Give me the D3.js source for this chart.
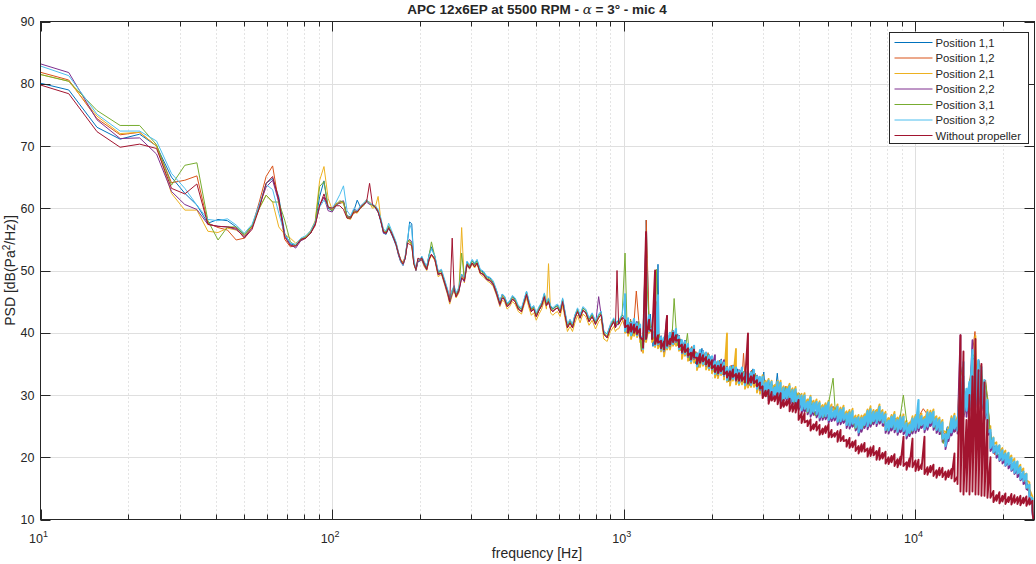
<!DOCTYPE html>
<html>
<head>
<meta charset="utf-8">
<script src="https://cdn.jsdelivr.net/npm/d3@7/dist/d3.min.js"></script>
<style>
  body { margin: 0; background: #fff; }
  svg { display: block; }
  text { font-family: "Liberation Sans", Arial, Helvetica, sans-serif; fill: #262626; }
</style>
</head>
<body>
<svg id="chart" width="1036" height="564"></svg>
<script>
// ---- Frequency bins (Hz) ----
const freqLow = [9.375, 12.5, 15.625, 18.75, 21.875, 25, 28.125, 31.25, 34.375, 37.5,
  40.625, 43.75, 46.875, 50, 53.125, 56.25, 59.375, 62.5, 65.625, 68.75,
  71.875, 75, 78.125, 81.25, 84.375, 87.5, 90.625, 93.75, 96.875, 100,
  103.125, 106.25, 109.375, 112.5, 115.625, 118.75, 121.875, 125, 128.125, 131.25,
  134.375, 137.5, 140.625, 143.75, 146.875, 150, 153.125, 156.25, 159.375, 162.5,
  165.625, 168.75, 171.875, 175, 178.125, 181.25, 184.375, 187.5, 190.625, 193.75,
  196.875, 200];
const freqMid = [203, 207, 211, 215, 219, 225, 231, 237, 244, 249,
  253, 258, 262, 266, 272, 278, 284, 290, 296, 302,
  308, 314, 322, 330, 339, 348, 357, 366, 376, 383,
  390, 398, 406, 415, 424, 435, 446, 455, 464, 473,
  482, 491, 501, 512, 523, 534, 543, 552, 561, 571,
  582, 593, 605, 617, 629, 641, 654, 667, 680, 694,
  708, 724, 741, 760, 779, 800, 820, 836, 854, 877,
  900, 924, 936, 948, 960, 987];
const freqHigh1 = [1010, 1025, 1042, 1055, 1068, 1085, 1104, 1125, 1149, 1160,
  1174, 1180, 1194, 1220, 1233, 1259, 1275, 1294, 1310, 1322,
  1345, 1368, 1385, 1405, 1442, 1467, 1488, 1513, 1530, 1551,
  1570, 1589, 1620, 1653, 1683, 1710, 1739, 1765, 1796, 1825,
  1853, 1883, 1913, 1945, 1975, 2010, 2042, 2070, 2095, 2130,
  2162, 2190, 2212, 2263, 2290, 2335, 2380, 2415, 2452, 2500,
  2540, 2574, 2610, 2650, 2703, 2740, 2772, 2825, 2880, 2950,
  3020, 3060, 3100, 3160, 3225, 3290, 3360, 3420, 3490, 3580,
  3670, 3750, 3830, 3910, 3990];
const freqHigh2 = [4130, 4260, 4400, 4540, 4680, 4830, 4990, 5220, 5310, 5480,
  5660, 5840, 6030, 6220, 6420, 6630, 6840, 7060, 7290, 7520,
  7760, 8010, 8270, 8540, 8810, 9090, 9380, 9680, 10160, 10310,
  10640, 10980, 11330, 11700, 12070, 12460, 12860, 13270, 13700,
  14000, 14270, 14500, 14750, 15000, 15250, 15500, 15750, 16000, 16250,
  16500, 16800, 17100, 17400, 17700, 18000, 18300,
  18700, 19300, 19900, 20500, 21200, 21800, 22500, 23200, 23900, 24600,
  25000, 25400, 25600];
// dense bins above 1 kHz, each holding the upper and lower excursion of the trace
const freqFine = [1010, 1034, 1059, 1084, 1110, 1137, 1164, 1192, 1221, 1250,
  1280, 1310, 1342, 1374, 1407, 1440, 1475, 1510, 1546, 1583,
  1621, 1660, 1700, 1741, 1782, 1825, 1869, 1914, 1959, 2006,
  2054, 2104, 2154, 2206, 2259, 2313, 2368, 2425, 2483, 2542,
  2603, 2666, 2730, 2795, 2862, 2930,
  2992, 3064, 3137, 3212, 3289, 3368, 3449, 3531, 3616, 3702,
  3791, 3882, 3975, 4070, 4168, 4267, 4370, 4474, 4581, 4691,
  4804, 4919, 5037, 5157, 5281, 5407, 5537, 5670, 5805, 5944,
  6087, 6233, 6382, 6535, 6691, 6852, 7016, 7184, 7356, 7532,
  7712, 7897, 8086, 8280, 8478, 8681, 8889, 9102, 9320, 9543,
  9772, 10006, 10245, 10491, 10742, 10999, 11263, 11532, 11809, 12092,
  12381, 12678, 12981, 13292, 13611, 13937, 14270, 14612, 14962, 15320,
  15687, 16063, 16447, 16841, 17245, 17658, 18080, 18513, 18957, 19411,
  19876, 20351, 20839, 21338, 21849, 22372, 22908, 23456, 24018, 24593,
  25182, 25600];

// ---- PSD values (dB re Pa^2/Hz) ----
// Position 1,1
const p11Low = [80.4, 79.0, 73.0, 71.1, 71.9, 70.0, 65.0, 62.4, 60.5, 57.6,
  58.2, 58.0, 57.0, 55.6, 57.2, 60.2, 64.0, 64.8, 61.8, 56.0,
  54.3, 54.0, 55.0, 55.4, 56.0, 57.6, 61.9, 64.4, 60.0, 59.6,
  60.6, 60.8, 61.0, 58.8, 58.6, 59.6, 61.3, 60.2, 60.4, 61.2,
  60.8, 60.5, 60.0, 59.4, 57.8, 56.0, 55.8, 56.8, 56.0, 55.0,
  54.0, 52.5, 51.4, 51.0, 52.0, 54.5, 57.8, 57.5, 51.5, 50.0,
  51.5, 51.5];
const p11Mid = [52.2, 51.2, 50.6, 52.6, 53.8, 52.2, 49.8, 50.0, 48.0, 46.8,
  45.4, 46.8, 47.4, 46.2, 47.0, 49.4, 48.8, 51.4, 50.8, 51.6,
  51.0, 51.6, 50.0, 49.8, 49.0, 48.8, 48.0, 46.8, 45.0, 46.2,
  45.8, 44.6, 45.0, 45.8, 45.4, 44.2, 43.8, 45.2, 46.6, 45.0,
  43.8, 44.2, 43.0, 44.0, 44.8, 46.2, 44.8, 45.4, 44.2, 43.8,
  44.2, 44.4, 43.6, 45.4, 43.2, 41.2, 42.0, 41.2, 42.8, 43.8,
  42.8, 44.0, 43.6, 42.2, 43.0, 41.8, 42.8, 43.3, 40.2, 39.8,
  41.2, 42.2, 41.2, 41.8, 41.8, 42.8];
const p11High1 = [42.5, 40.0, 41.7, 40.2, 41.4, 40.0, 41.8, 40.0, 39.0, 38.0,
  40.4, 39.5, 58.1, 40.5, 43.0, 37.8, 40.5, 38.5, 51.0, 37.8,
  39.5, 36.8, 39.5, 38.0, 39.8, 38.5, 40.0, 38.5, 39.8, 37.6,
  39.0, 36.5, 38.8, 36.0, 37.4, 35.8, 37.7, 35.0, 36.3, 35.0,
  37.5, 34.8, 36.6, 34.8, 36.2, 34.0, 35.6, 33.4, 35.0, 33.6,
  35.8, 33.2, 35.0, 32.6, 34.0, 32.8, 34.8, 32.2, 34.2, 32.0,
  34.2, 32.0, 33.8, 31.8, 33.4, 32.0, 34.2, 31.5, 33.0, 30.6,
  33.7, 30.0, 31.6, 30.0, 31.8, 29.6, 33.5, 29.4, 31.0, 29.4,
  31.3, 28.8, 30.5, 28.5, 30.3];
const p11High2 = [29.3, 27.2, 29.1, 26.7, 28.5, 26.4, 28.1, 26.4, 27.9, 25.8,
  27.4, 25.4, 26.9, 24.6, 25.9, 24.9, 27.2, 25.4, 27.5, 25.9,
  26.7, 24.3, 26.3, 24.5, 26.1, 24.1, 25.4, 24.1, 26.7, 24.9,
  26.4, 25.1, 27.1, 24.7, 25.9, 22.3, 24.9, 24.3, 25.9,
  25.5, 33.0, 34.5, 30.0, 29.0, 31.5, 33.0, 36.0, 35.5, 31.5,
  34.0, 33.5, 31.0, 31.5, 28.5, 24.5, 22.5,
  21.6, 19.9, 20.8, 19.0, 19.8, 17.8, 18.4, 16.6, 16.6, 14.0,
  13.4, 11.0, 8.0];

// Position 1,2
const p12Low = [82.2, 80.6, 74.4, 71.8, 72.2, 70.0, 64.1, 64.5, 65.2, 57.6,
  56.9, 56.5, 54.9, 55.2, 57.0, 61.0, 65.1, 66.8, 60.8, 55.0,
  53.8, 54.0, 54.8, 55.2, 56.0, 57.2, 60.6, 61.8, 60.2, 59.8,
  60.8, 60.8, 61.0, 58.6, 58.6, 59.2, 59.4, 60.2, 60.8, 61.2,
  61.0, 60.4, 60.4, 59.6, 58.0, 56.3, 56.0, 57.0, 56.0, 55.4,
  54.4, 52.9, 51.8, 51.3, 52.3, 54.8, 54.5, 54.4, 51.2, 50.2,
  51.6, 51.8];
const p12Mid = [51.8, 50.8, 50.2, 51.8, 52.6, 51.8, 49.4, 49.6, 47.8, 46.4,
  45.0, 46.4, 47.4, 45.8, 46.8, 49.2, 48.4, 51.0, 50.4, 51.2,
  50.6, 51.2, 49.6, 49.4, 48.6, 48.4, 47.8, 46.4, 44.6, 46.0,
  45.4, 44.4, 44.6, 45.4, 45.2, 43.8, 43.4, 45.0, 46.0, 44.6,
  43.4, 44.0, 42.6, 43.6, 44.4, 45.8, 44.4, 45.0, 43.8, 43.4,
  43.8, 44.0, 43.2, 45.0, 42.8, 40.8, 41.6, 40.8, 42.4, 43.4,
  42.4, 43.6, 43.2, 41.8, 42.6, 41.4, 42.4, 43.0, 39.8, 39.2,
  40.8, 41.8, 40.8, 41.4, 41.4, 42.4];
const p12High1 = [40.6, 42.0, 39.8, 42.2, 39.5, 42.0, 46.7, 42.0, 37.0, 40.0,
  38.5, 41.5, 58.1, 42.5, 41.0, 39.8, 38.6, 45.0, 38.0, 39.8,
  37.6, 38.8, 37.6, 40.0, 37.9, 40.5, 38.1, 40.5, 37.9, 39.6,
  37.1, 38.5, 36.9, 38.0, 35.5, 37.8, 35.8, 37.0, 34.4, 37.0,
  35.6, 36.8, 34.7, 36.8, 34.3, 36.0, 33.7, 35.4, 33.1, 35.6,
  33.9, 35.2, 33.1, 34.6, 32.1, 34.8, 32.9, 34.2, 32.3, 34.0,
  32.3, 36.7, 31.9, 33.8, 31.5, 34.0, 32.3, 33.5, 31.1, 32.6,
  30.7, 32.0, 29.7, 32.0, 29.9, 31.6, 29.9, 31.4, 29.1, 31.4,
  29.4, 30.8, 28.6, 30.5, 28.4];
const p12High2 = [27.5, 29.0, 27.3, 28.5, 26.7, 28.2, 26.3, 28.2, 26.1, 27.6,
  25.6, 27.2, 25.1, 26.4, 24.1, 26.7, 25.4, 27.2, 25.7, 27.7,
  24.9, 26.1, 24.5, 26.3, 24.3, 25.9, 23.6, 25.9, 24.9, 26.7,
  27.8, 26.9, 25.3, 26.5, 24.1, 24.1, 23.1, 26.1, 24.1,
  25.0, 34.0, 33.0, 29.5, 29.5, 31.0, 34.0, 37.5, 40.2, 33.0,
  35.5, 33.0, 31.5, 32.4, 29.0, 24.0, 22.0,
  20.4, 21.1, 19.6, 20.2, 18.6, 19.0, 17.2, 17.8, 15.4, 15.0,
  12.6, 11.0, 8.0];

// Position 2,1
const p21Low = [81.8, 80.4, 74.8, 72.0, 72.2, 70.0, 62.4, 59.7, 59.7, 56.3,
  56.1, 56.8, 56.5, 55.6, 57.0, 60.0, 62.1, 61.0, 57.0, 55.8,
  55.2, 54.4, 55.0, 55.4, 56.4, 58.0, 64.5, 66.7, 61.6, 59.8,
  60.6, 61.0, 60.8, 58.4, 58.2, 59.4, 59.2, 60.0, 60.4, 61.4,
  60.8, 60.0, 60.2, 61.9, 58.2, 56.2, 56.0, 57.0, 56.2, 55.4,
  54.2, 52.8, 51.6, 51.2, 52.2, 54.6, 54.6, 54.0, 51.0, 50.0,
  51.8, 51.6];
const p21Mid = [51.6, 50.6, 50.0, 51.6, 52.4, 51.6, 49.0, 49.4, 47.4, 46.0,
  44.6, 46.0, 46.8, 45.6, 46.4, 56.9, 48.0, 50.8, 50.2, 51.0,
  50.4, 51.0, 49.4, 49.0, 48.4, 48.0, 47.4, 46.0, 44.2, 45.2,
  45.0, 43.8, 44.2, 45.0, 44.6, 43.4, 43.0, 44.4, 45.6, 44.0,
  42.8, 43.2, 42.0, 43.0, 43.8, 45.2, 43.8, 51.1, 43.2, 42.8,
  43.2, 43.4, 42.6, 44.4, 42.2, 40.2, 41.0, 40.2, 41.6, 42.8,
  41.6, 43.0, 42.6, 41.2, 42.0, 40.6, 41.8, 42.2, 39.0, 38.6,
  40.2, 41.0, 40.2, 40.6, 40.6, 41.8];
const p21FineHi = [41.9, 40.9, 41.3, 41.0, 40.6, 40.4, 39.2, 48.0, 41.3, 40.5,
  39.3, 39.6, 38.3, 38.2, 39.3, 38.7, 39.8, 39.4, 38.4, 37.9,
  38.4, 37.0, 36.4, 37.1, 36.2, 35.9, 36.6, 35.9, 35.3, 35.4,
  34.8, 34.1, 35.2, 34.3, 39.9, 33.2, 34.3, 37.4, 33.0, 33.6,
  33.0, 32.6, 33.2, 33.1, 32.0, 32.1,
  33.2, 32.3, 32.6, 32.3, 31.6, 32.3, 32.3, 31.4, 31.3, 31.8,
  31.1, 31.3, 30.3, 30.2, 30.3, 29.3, 29.9, 29.1, 29.3, 29.0,
  28.4, 28.7, 29.1, 28.5, 27.9, 28.5, 28.0, 28.3, 27.4, 27.6,
  27.8, 26.7, 26.8, 26.7, 26.9, 27.7, 28.2, 27.6, 27.6, 28.5,
  27.6, 27.3, 26.3, 26.8, 27.3, 26.4, 26.8, 26.9, 25.9, 25.6,
  26.6, 26.8, 27.4, 27.0, 26.5, 27.6, 27.5, 27.7, 26.6, 26.4,
  26.0, 24.1, 24.8, 26.6, 27.0, 26.5,
  34.5, 32.0, 30.0, 31.5, 33.5, 39.5, 35.0, 34.0, 32.0, 29.5, 25.0,
  23.2, 22.4, 21.9, 21.5, 21.1, 20.7, 20.3, 19.8, 19.3, 18.8, 18.2, 17.4, 16.0, 13.7, 8.0];
const p21FineLo = [40.0, 39.5, 39.0, 39.5, 39.3, 38.5, 36.8, 38.5, 40.0, 38.5,
  37.7, 37.5, 37.0, 36.2, 37.3, 37.3, 37.9, 37.9, 37.1, 35.8,
  36.3, 35.5, 35.1, 35.2, 34.0, 34.5, 34.7, 34.1, 34.0, 33.5,
  32.8, 32.7, 33.2, 32.5, 32.1, 31.5, 32.3, 31.7, 31.6, 31.7,
  31.0, 31.2, 31.3, 31.3, 30.4, 30.2,
  31.7, 31.3, 30.9, 31.1, 30.7, 30.9, 30.5, 30.3, 30.5, 30.3,
  29.9, 29.7, 29.4, 28.9, 28.6, 28.3, 28.4, 28.1, 27.7, 27.8,
  27.5, 27.3, 27.3, 27.4, 27.1, 27.0, 26.8, 26.7, 26.5, 26.3,
  26.1, 25.7, 25.3, 25.5, 26.0, 26.3, 26.4, 26.5, 26.8, 27.0,
  26.4, 25.7, 25.4, 25.5, 25.6, 25.4, 25.3, 25.1, 24.8, 24.7,
  25.1, 25.6, 25.9, 25.9, 25.7, 26.1, 26.3, 26.1, 25.7, 25.1,
  24.3, 23.1, 23.9, 25.1, 25.3, 25.5,
  26.0, 27.0, 27.0, 27.5, 28.5, 29.0, 29.0, 28.0, 26.5, 24.0, 21.5,
  22.1, 21.3, 20.8, 20.4, 20.0, 19.6, 19.2, 18.7, 18.2, 17.7, 17.1, 16.3, 14.9, 12.6, 8.0];

// Position 2,2
const p22Low = [83.6, 81.8, 74.2, 71.2, 71.3, 68.7, 62.7, 60.6, 59.8, 57.4,
  57.1, 57.0, 56.6, 55.4, 56.8, 60.4, 63.4, 64.5, 61.0, 55.6,
  54.2, 53.6, 54.8, 55.2, 56.0, 57.4, 60.4, 61.8, 59.6, 59.4,
  60.4, 61.0, 61.2, 58.6, 58.4, 59.8, 59.6, 60.2, 60.6, 61.0,
  60.6, 60.6, 60.2, 59.4, 58.0, 56.0, 56.0, 57.0, 56.0, 55.2,
  54.2, 52.6, 51.4, 50.8, 52.0, 54.6, 55.0, 54.6, 51.4, 50.0,
  51.4, 51.6];
const p22Mid = [51.7, 50.8, 50.1, 51.8, 52.6, 51.8, 49.3, 49.6, 47.6, 46.2,
  44.9, 46.2, 47.0, 45.8, 46.6, 48.8, 48.2, 50.9, 50.3, 51.2,
  50.6, 51.2, 49.6, 49.3, 48.5, 48.3, 47.6, 46.2, 44.4, 45.6,
  45.3, 44.2, 44.5, 45.4, 45.0, 43.8, 43.4, 44.8, 46.0, 44.6,
  43.4, 43.8, 42.6, 43.6, 44.3, 45.8, 44.3, 45.0, 43.8, 43.4,
  43.8, 44.0, 43.2, 45.0, 42.8, 40.8, 41.6, 40.8, 42.3, 43.4,
  42.3, 43.6, 43.2, 41.8, 42.6, 41.3, 45.8, 42.9, 39.7, 39.2,
  40.8, 41.8, 40.8, 41.3, 41.3, 42.4];
const p22FineHi = [42.4, 41.9, 41.7, 41.9, 41.7, 40.9, 39.5, 54.0, 42.4, 40.9,
  40.1, 39.9, 39.4, 38.9, 42.7, 39.7, 40.3, 40.3, 39.5, 38.5,
  38.7, 37.9, 37.5, 37.6, 36.7, 36.9, 37.1, 36.5, 36.4, 35.9,
  36.4, 35.1, 35.6, 35.6, 34.5, 34.2, 34.7, 34.1, 34.0, 34.1,
  33.7, 33.6, 33.7, 33.7, 33.1, 32.6,
  31.4, 31.0, 30.6, 30.8, 30.4, 30.6, 30.2, 30.0, 30.2, 30.0,
  29.6, 29.4, 29.1, 28.6, 28.3, 28.0, 28.1, 27.8, 27.4, 27.5,
  27.2, 27.0, 27.0, 27.1, 26.8, 26.7, 26.5, 26.4, 26.2, 26.0,
  25.8, 25.4, 25.0, 25.2, 25.7, 26.0, 26.1, 26.2, 26.5, 26.7,
  26.1, 25.4, 25.1, 25.2, 25.3, 25.1, 25.0, 24.8, 24.5, 24.4,
  24.8, 25.3, 25.6, 25.6, 25.4, 25.8, 26.0, 25.8, 25.4, 24.8,
  24.0, 22.8, 23.6, 24.8, 25.0, 25.2,
  39.6, 33.0, 29.0, 31.0, 38.8, 34.0, 35.5, 33.0, 30.5, 28.0, 24.0,
  21.8, 21.0, 20.5, 20.1, 19.7, 19.3, 18.9, 18.4, 17.9, 17.4, 16.8, 16.0, 14.6, 12.3, 8.0];
const p22FineLo = [40.6, 40.1, 39.9, 40.1, 39.9, 39.1, 37.7, 39.1, 40.6, 39.1,
  38.3, 38.1, 37.6, 37.1, 37.9, 37.9, 38.5, 38.5, 37.7, 36.7,
  36.9, 36.1, 35.7, 35.8, 34.9, 35.1, 35.3, 34.7, 34.6, 34.1,
  33.7, 33.3, 33.8, 33.1, 32.7, 32.4, 32.9, 32.3, 32.2, 32.3,
  31.9, 31.8, 31.9, 31.9, 31.3, 30.8,
  30.0, 30.1, 29.1, 29.6, 29.5, 29.2, 28.6, 29.0, 29.2, 28.5,
  28.4, 28.5, 27.6, 27.1, 27.3, 26.9, 26.5, 26.8, 26.4, 25.9,
  26.0, 26.1, 25.5, 25.8, 25.9, 25.2, 25.3, 25.5, 24.7, 24.6,
  24.9, 24.3, 23.5, 24.1, 24.7, 24.5, 24.9, 25.3, 25.0, 25.4,
  25.1, 23.9, 23.8, 24.3, 24.0, 23.6, 24.0, 23.7, 23.0, 23.4,
  23.8, 23.9, 24.2, 24.7, 24.0, 24.4, 25.0, 24.4, 23.9, 23.7,
  22.5, 21.3, 22.6, 23.5, 24.1, 23.8,
  25.5, 26.5, 26.5, 27.0, 28.0, 28.0, 28.5, 27.5, 26.0, 23.5, 21.0,
  20.7, 19.9, 19.4, 19.0, 18.6, 18.2, 17.8, 17.3, 16.8, 16.3, 15.7, 14.9, 13.5, 11.2, 8.0];

// Position 3,1
const p31Low = [81.8, 80.4, 75.7, 73.3, 73.3, 70.2, 63.7, 66.9, 67.3, 58.0,
  54.9, 57.0, 57.0, 55.8, 57.2, 60.0, 62.1, 61.0, 61.0, 58.1,
  54.6, 54.0, 55.0, 55.4, 56.2, 57.8, 63.5, 64.3, 60.2, 59.6,
  60.6, 61.2, 61.0, 58.6, 58.4, 59.6, 59.4, 60.0, 60.6, 61.2,
  60.8, 60.4, 60.2, 59.6, 58.2, 56.4, 56.2, 57.2, 56.2, 55.4,
  54.4, 52.8, 51.6, 51.0, 52.2, 54.8, 54.8, 54.2, 51.2, 50.2,
  51.8, 51.8];
const p31Mid = [52.0, 51.1, 50.4, 52.4, 54.6, 52.2, 49.6, 49.9, 48.0, 46.6,
  45.3, 46.6, 47.3, 46.1, 47.0, 52.8, 48.6, 51.2, 50.6, 51.5,
  50.9, 51.5, 49.9, 49.6, 48.8, 48.6, 48.0, 46.6, 44.8, 45.9,
  45.6, 44.5, 44.8, 45.7, 45.3, 44.1, 43.7, 45.1, 46.4, 44.9,
  43.7, 44.1, 42.9, 43.9, 44.6, 46.1, 44.6, 45.3, 44.1, 43.7,
  44.1, 44.3, 43.5, 45.3, 43.1, 41.1, 41.9, 41.1, 42.6, 43.7,
  42.6, 43.9, 43.5, 42.1, 42.9, 41.6, 42.7, 43.2, 40.0, 39.5,
  41.1, 42.1, 41.1, 41.6, 41.6, 42.7];
const p31High1 = [52.8, 41.8, 39.9, 42.0, 39.6, 41.8, 40.0, 41.8, 37.2, 39.8,
  38.6, 41.3, 50.0, 42.3, 41.2, 39.6, 38.7, 50.2, 38.2, 39.6,
  37.7, 38.6, 37.7, 39.8, 38.0, 40.3, 45.5, 40.3, 38.0, 39.4,
  37.2, 38.3, 37.0, 39.9, 35.6, 37.6, 35.9, 36.8, 34.5, 36.8,
  35.7, 36.6, 34.8, 36.6, 34.4, 35.8, 33.8, 35.2, 33.2, 35.4,
  34.0, 35.0, 33.2, 34.4, 32.2, 34.6, 33.0, 34.0, 32.4, 33.8,
  32.4, 33.8, 32.0, 33.6, 31.6, 33.8, 32.4, 33.3, 31.2, 32.4,
  30.8, 31.8, 29.8, 31.8, 30.0, 31.4, 30.0, 31.2, 29.2, 31.2,
  29.5, 30.6, 28.7, 30.3, 28.5];
const p31High2 = [28.8, 27.1, 28.6, 26.6, 28.0, 26.3, 27.6, 32.7, 27.4, 25.7,
  26.9, 25.3, 26.4, 24.5, 25.4, 24.8, 26.7, 25.3, 27.0, 25.8,
  26.2, 24.2, 25.8, 24.4, 25.6, 30.0, 24.9, 24.0, 26.2, 24.8,
  25.9, 25.0, 26.6, 24.6, 25.4, 22.2, 24.4, 24.2, 25.4,
  25.4, 33.5, 33.5, 29.5, 29.5, 31.8, 33.0, 36.5, 36.0, 32.5,
  35.0, 34.5, 31.5, 32.0, 29.0, 24.5, 22.5,
  21.3, 20.2, 20.5, 19.3, 19.5, 18.1, 18.1, 16.9, 16.3, 14.2,
  13.2, 11.0, 8.0];

// Position 3,2
const p32Low = [83.3, 81.3, 75.1, 72.4, 72.4, 70.8, 65.6, 63.2, 60.5, 58.2,
  58.0, 58.3, 57.3, 56.0, 57.4, 60.6, 63.8, 63.0, 59.2, 55.8,
  54.4, 54.2, 55.2, 55.6, 56.4, 57.8, 60.2, 61.3, 60.2, 60.0,
  61.0, 62.2, 63.6, 59.6, 58.8, 60.0, 59.6, 60.4, 60.8, 61.4,
  60.8, 60.6, 60.4, 59.8, 58.4, 56.6, 56.4, 57.6, 56.6, 55.6,
  54.6, 53.0, 51.4, 50.8, 52.4, 55.0, 57.5, 56.5, 51.6, 50.4,
  51.8, 51.8];
const p32Mid = [52.3, 51.4, 50.7, 52.4, 53.4, 52.4, 49.9, 50.2, 48.3, 46.9,
  45.6, 46.9, 47.6, 46.4, 47.3, 49.4, 48.9, 51.5, 50.9, 51.8,
  51.2, 51.8, 50.2, 49.9, 49.1, 48.9, 48.3, 46.9, 45.1, 46.2,
  45.9, 44.8, 45.1, 46.0, 45.6, 44.4, 44.0, 45.4, 46.7, 45.2,
  44.0, 44.4, 43.2, 44.2, 44.9, 46.4, 44.9, 45.6, 44.4, 44.0,
  44.4, 44.6, 43.8, 45.6, 43.4, 41.4, 42.2, 41.4, 42.9, 44.0,
  42.9, 44.2, 43.8, 42.4, 43.2, 41.9, 43.0, 43.5, 40.3, 39.8,
  41.4, 42.4, 41.4, 41.9, 41.9, 43.0];
const p32FineHi = [46.3, 42.3, 41.6, 42.2, 41.5, 41.3, 39.4, 52.0, 42.8, 40.7,
  40.4, 46.0, 39.3, 39.2, 39.6, 40.0, 40.2, 40.6, 39.4, 38.8,
  38.6, 38.2, 37.4, 37.9, 36.6, 37.2, 37.0, 36.8, 36.3, 36.2,
  35.4, 35.4, 35.5, 35.2, 34.4, 34.5, 34.6, 34.4, 33.9, 34.4,
  33.6, 33.9, 33.6, 34.0, 33.0, 32.9,
  32.9, 32.0, 32.3, 32.1, 31.2, 32.1, 31.9, 31.1, 31.0, 31.4,
  30.8, 30.9, 29.9, 29.9, 29.9, 28.9, 29.6, 28.7, 28.9, 28.7,
  28.0, 28.3, 28.8, 28.0, 27.5, 28.1, 27.6, 27.9, 27.0, 27.2,
  27.4, 26.3, 26.4, 26.3, 26.5, 27.4, 27.7, 27.3, 27.2, 28.1,
  27.2, 26.9, 25.9, 26.5, 26.8, 26.0, 26.4, 26.5, 25.5, 25.2,
  26.2, 26.4, 29.2, 26.6, 26.1, 27.2, 27.1, 27.3, 26.2, 26.0,
  25.6, 23.7, 24.4, 26.2, 26.6, 26.1,
  32.0, 35.3, 31.0, 32.1, 37.2, 34.0, 35.6, 34.5, 32.4, 29.2, 24.4,
  23.1, 21.9, 21.9, 21.1, 20.6, 20.7, 19.9, 19.3, 19.3, 18.4, 17.7, 17.3, 15.6, 13.4, 8.0];
const p32FineLo = [40.3, 40.2, 39.6, 40.2, 39.6, 39.2, 37.4, 39.0, 40.3, 39.2,
  38.0, 38.2, 37.3, 37.2, 37.6, 38.0, 38.2, 38.6, 37.4, 36.8,
  36.6, 36.2, 35.4, 35.9, 34.6, 35.2, 35.0, 34.8, 34.3, 34.2,
  33.4, 33.4, 33.5, 33.2, 32.4, 32.5, 32.6, 32.4, 31.9, 32.4,
  31.6, 31.9, 31.6, 32.0, 31.0, 30.9,
  30.2, 30.5, 29.5, 29.9, 29.9, 29.5, 29.0, 29.3, 29.5, 28.9,
  28.8, 28.9, 28.0, 27.6, 27.8, 27.4, 27.0, 27.3, 26.9, 26.4,
  26.5, 26.6, 26.0, 26.3, 26.4, 25.7, 25.8, 26.0, 25.2, 25.1,
  25.4, 24.8, 24.0, 24.6, 25.2, 25.0, 25.4, 25.8, 25.5, 25.9,
  25.6, 24.4, 24.3, 24.8, 24.5, 24.1, 24.5, 24.2, 23.5, 23.9,
  24.3, 24.4, 24.7, 25.2, 24.5, 24.9, 25.5, 24.9, 24.4, 24.2,
  23.0, 21.8, 23.1, 24.0, 24.6, 24.3,
  26.0, 27.0, 27.5, 28.0, 29.0, 28.5, 29.0, 28.0, 26.5, 24.0, 21.5,
  20.8, 20.5, 19.6, 19.5, 18.7, 18.8, 18.0, 17.5, 17.4, 16.5, 16.2, 15.1, 13.7, 11.6, 8.0];

// Without propeller
const noPropLow = [80.2, 78.4, 72.3, 69.8, 70.3, 69.6, 63.2, 62.3, 63.9, 57.4,
  57.1, 57.0, 56.8, 55.2, 56.6, 60.0, 64.0, 65.1, 61.4, 55.4,
  54.0, 53.9, 55.0, 55.2, 56.0, 57.4, 60.4, 62.3, 60.2, 60.0,
  60.4, 60.4, 59.8, 58.4, 58.4, 59.4, 59.4, 60.0, 60.6, 61.0,
  64.0, 60.6, 60.2, 59.4, 58.0, 56.2, 56.0, 56.8, 56.2, 55.2,
  54.2, 52.8, 51.6, 51.0, 52.0, 54.4, 54.2, 54.0, 51.0, 50.2,
  52.0, 51.8];
const noPropMid = [52.0, 51.0, 50.2, 51.8, 52.6, 51.8, 49.4, 49.6, 47.8, 46.4,
  45.0, 55.2, 47.0, 45.8, 46.8, 48.8, 48.4, 51.0, 50.4, 51.2,
  50.6, 51.2, 49.6, 49.4, 48.6, 48.4, 47.8, 46.4, 44.6, 45.6,
  45.4, 44.2, 44.6, 45.4, 45.0, 43.8, 43.4, 44.8, 46.2, 44.6,
  43.4, 43.8, 42.6, 43.6, 44.4, 45.8, 44.4, 45.0, 43.8, 43.4,
  43.8, 44.0, 43.2, 45.0, 42.8, 40.8, 41.6, 40.8, 42.4, 43.4,
  42.4, 43.6, 43.2, 41.8, 42.6, 41.4, 42.4, 42.9, 39.8, 39.2,
  40.8, 41.8, 40.8, 50.0, 41.4, 42.4];
const noPropFineHi = [42.1, 41.2, 41.4, 41.3, 41.0, 40.6, 38.8, 56.2, 42.1, 40.2,
  50.0, 39.6, 38.7, 38.6, 42.7, 39.0, 40.0, 39.6, 38.9, 38.1,
  38.1, 37.5, 36.8, 37.3, 36.0, 36.6, 36.4, 36.1, 35.7, 35.6,
  34.8, 34.7, 34.9, 34.6, 33.8, 33.8, 34.1, 33.4, 33.5, 33.5,
  33.0, 39.9, 33.0, 33.2, 32.4, 32.0,
  31.4, 30.7, 30.8, 30.5, 29.8, 30.3, 30.3, 29.2, 29.1, 29.4,
  28.7, 28.7, 29.2, 27.1, 27.1, 25.9, 26.1, 25.3, 25.7, 25.2,
  24.6, 25.0, 25.3, 24.4, 23.9, 24.2, 24.4, 23.4, 22.8, 23.1,
  22.5, 22.7, 21.8, 22.1, 22.3, 21.4, 21.6, 21.8, 21.0, 21.5,
  20.7, 20.9, 20.0, 20.2, 20.5, 19.7, 20.1, 23.3, 19.2, 19.8,
  23.0, 19.5, 19.6, 18.9, 23.3, 18.4, 18.6, 18.8, 17.9, 18.3,
  18.3, 17.7, 17.9, 18.1, 20.6, 16.9,
  39.6, 37.0, 26.0, 30.0, 33.0, 39.0, 34.0, 35.0, 32.0, 26.0, 20.0,
  14.6, 13.9, 14.4, 13.8, 14.2, 13.6, 14.1, 13.9, 13.6, 13.8, 13.5, 13.7, 13.4, 13.0, 8.0];
const noPropFineLo = [40.9, 40.0, 40.2, 40.0, 39.8, 39.3, 37.6, 39.0, 40.6, 39.0,
  38.2, 38.4, 37.5, 37.3, 37.9, 38.1, 38.5, 38.7, 37.7, 36.9,
  36.9, 36.3, 35.7, 36.0, 35.0, 35.2, 35.4, 34.9, 34.6, 34.3,
  33.7, 33.5, 33.8, 33.3, 32.8, 32.5, 32.9, 32.4, 32.3, 32.3,
  32.0, 31.9, 32.0, 31.9, 31.4, 31.0,
  29.5, 29.8, 28.6, 29.1, 29.0, 28.5, 27.9, 28.1, 28.3, 27.4,
  27.3, 27.2, 26.0, 25.5, 25.6, 25.0, 24.3, 24.5, 24.3, 23.6,
  23.7, 23.9, 23.2, 23.2, 23.3, 22.5, 22.6, 22.6, 21.7, 21.5,
  21.6, 21.0, 20.6, 20.9, 20.9, 20.1, 20.2, 20.3, 19.6, 19.6,
  19.8, 19.0, 18.9, 19.2, 18.6, 18.4, 18.8, 18.6, 18.0, 18.5,
  18.4, 17.8, 17.9, 18.1, 17.3, 17.2, 17.6, 17.0, 16.7, 17.1,
  16.8, 16.4, 16.8, 16.6, 16.1, 15.7,
  14.5, 14.0, 14.5, 14.0, 14.5, 14.0, 14.0, 13.8, 13.8, 13.5, 13.5,
  12.8, 13.0, 12.6, 12.9, 12.5, 12.8, 12.4, 12.7, 12.5, 12.3, 12.6, 12.2, 12.4, 11.5, 8.0];

// ---- Legend labels, colours, ticks ----
const seriesNames = ["Position 1,1", "Position 1,2", "Position 2,1", "Position 2,2",
  "Position 3,1", "Position 3,2", "Without propeller"];
const seriesColors = ["#0072BD", "#D95319", "#EDB120", "#7E2F8E", "#77AC30", "#4DBEEE", "#A2142F"];
const yTicks = [10, 20, 30, 40, 50, 60, 70, 80, 90];
const xMajorTicks = [10, 100, 1000, 10000];
const xMajorExp = ["1", "2", "3", "4"];

// ---- Assemble the curves ----
const pairs = (fs, vs) => d3.zip(fs, vs);
// dense section: each bin contributes its upper then its lower excursion
const envelope = (hi, lo) => {
  const pts = [];
  freqFine.forEach((f, i) => {
    pts.push([f, hi[i]]);
    if (lo[i] !== hi[i]) pts.push([f, lo[i]]);
  });
  return pts;
};

function coarseSeries(lo, mid, h1, h2) {
  return {
    sparse: pairs(freqLow, lo).concat(pairs(freqMid, mid), pairs(freqHigh1, h1), pairs(freqHigh2, h2)),
    dense: null
  };
}
function denseSeries(lo, mid, hi, lw, w) {
  const dense = envelope(hi, lw);
  return {
    sparse: pairs(freqLow, lo).concat(pairs(freqMid, mid), [dense[0]]),
    dense: dense,
    width: w
  };
}

const curvesData = [
  coarseSeries(p11Low, p11Mid, p11High1, p11High2),
  coarseSeries(p12Low, p12Mid, p12High1, p12High2),
  denseSeries(p21Low, p21Mid, p21FineHi, p21FineLo, 1.8),
  denseSeries(p22Low, p22Mid, p22FineHi, p22FineLo, 1.8),
  coarseSeries(p31Low, p31Mid, p31High1, p31High2),
  denseSeries(p32Low, p32Mid, p32FineHi, p32FineLo, 2.2),
  denseSeries(noPropLow, noPropMid, noPropFineHi, noPropFineLo, 1.9)
];

// ---- Layout ----
const W = 1036, H = 564;
const plot = { left: 40.5, right: 1034.5, top: 21.5, bottom: 519.5 };
const axisColor = "#262626";

const x = d3.scaleLog().domain([10, 25600]).range([plot.left, plot.right]);
const y = d3.scaleLinear().domain([10, 90]).range([plot.bottom, plot.top]);

const svg = d3.select("#chart");
svg.append("rect").attr("width", W).attr("height", H).attr("fill", "#fff");

const xMinorTicks = [];
[10, 100, 1000, 10000].forEach(dec => {
  for (let m = 2; m <= 9; m++) {
    const v = dec * m;
    if (v < 25600) xMinorTicks.push(v);
  }
});

// ---- Grid ----
const grid = svg.append("g");
grid.selectAll("line.minor").data(xMinorTicks).join("line")
  .attr("x1", d => Math.round(x(d)) + 0.5).attr("x2", d => Math.round(x(d)) + 0.5)
  .attr("y1", plot.top).attr("y2", plot.bottom)
  .attr("stroke", "#c8c8c8").attr("stroke-width", 1)
  .attr("stroke-dasharray", "1,3");
grid.selectAll("line.majx").data(xMajorTicks.slice(1)).join("line")
  .attr("x1", d => Math.round(x(d)) + 0.5).attr("x2", d => Math.round(x(d)) + 0.5)
  .attr("y1", plot.top).attr("y2", plot.bottom)
  .attr("stroke", "#dfdfdf").attr("stroke-width", 1);
grid.selectAll("line.majy").data(yTicks.slice(1, -1)).join("line")
  .attr("x1", plot.left).attr("x2", plot.right)
  .attr("y1", d => Math.round(y(d)) + 0.5).attr("y2", d => Math.round(y(d)) + 0.5)
  .attr("stroke", "#dfdfdf").attr("stroke-width", 1);

// ---- Curves ----
svg.append("clipPath").attr("id", "plotClip").append("rect")
  .attr("x", plot.left).attr("y", plot.top)
  .attr("width", plot.right - plot.left).attr("height", plot.bottom - plot.top);

const line = d3.line()
  .defined(d => d[1] != null && isFinite(d[1]))
  .x(d => x(d[0])).y(d => y(d[1]));

const curves = svg.append("g").attr("clip-path", "url(#plotClip)");
curvesData.forEach((s, i) => {
  curves.append("path")
    .datum(s.sparse)
    .attr("fill", "none")
    .attr("stroke", seriesColors[i])
    .attr("stroke-width", 1)
    .attr("stroke-linejoin", "round")
    .attr("d", line);
  if (s.dense) {
    curves.append("path")
      .datum(s.dense)
      .attr("fill", "none")
      .attr("stroke", seriesColors[i])
      .attr("stroke-width", s.width)
      .attr("stroke-linejoin", "round")
      .attr("d", line);
  }
});

// ---- Axes box and ticks ----
const axes = svg.append("g").attr("stroke", axisColor).attr("stroke-width", 1);
axes.append("rect")
  .attr("x", plot.left).attr("y", plot.top)
  .attr("width", plot.right - plot.left).attr("height", plot.bottom - plot.top)
  .attr("fill", "none");

const majLen = 10, minLen = 5;
xMajorTicks.forEach(v => {
  const px = Math.round(x(v)) + 0.5;
  axes.append("line").attr("x1", px).attr("x2", px).attr("y1", plot.bottom).attr("y2", plot.bottom - majLen);
  axes.append("line").attr("x1", px).attr("x2", px).attr("y1", plot.top).attr("y2", plot.top + majLen);
});
xMinorTicks.forEach(v => {
  const px = Math.round(x(v)) + 0.5;
  axes.append("line").attr("x1", px).attr("x2", px).attr("y1", plot.bottom).attr("y2", plot.bottom - minLen);
  axes.append("line").attr("x1", px).attr("x2", px).attr("y1", plot.top).attr("y2", plot.top + minLen);
});
yTicks.forEach(v => {
  const py = Math.round(y(v)) + 0.5;
  axes.append("line").attr("x1", plot.left).attr("x2", plot.left + majLen).attr("y1", py).attr("y2", py);
  axes.append("line").attr("x1", plot.right).attr("x2", plot.right - majLen).attr("y1", py).attr("y2", py);
});

// ---- Tick labels ----
svg.selectAll("text.ytick").data(yTicks).join("text")
  .attr("x", plot.left - 6).attr("y", d => y(d) + 4.5)
  .attr("text-anchor", "end").attr("font-size", 12.5).text(d => d);

xMajorTicks.forEach((v, i) => {
  const t = svg.append("text")
    .attr("x", x(v) - 2).attr("y", 543)
    .attr("text-anchor", "middle").attr("font-size", 12.5);
  t.append("tspan").text("10");
  t.append("tspan").attr("dy", -6).attr("font-size", 9).text(xMajorExp[i]);
});

// ---- Title and axis labels ----
const title = svg.append("text")
  .attr("x", 537).attr("y", 14)
  .attr("text-anchor", "middle").attr("font-size", 13.5).attr("font-weight", "bold");
title.append("tspan").text("APC 12x6EP at 5500 RPM - ");
title.append("tspan").attr("font-family", "'DejaVu Serif', serif").attr("font-style", "italic")
  .attr("font-weight", "normal").text("\u03B1");
title.append("tspan").text(" = 3\u00B0 - mic 4");

svg.append("text")
  .attr("x", 537).attr("y", 558)
  .attr("text-anchor", "middle").attr("font-size", 14)
  .text("frequency [Hz]");

const ylab = svg.append("text")
  .attr("transform", "translate(15,270.5) rotate(-90)")
  .attr("text-anchor", "middle").attr("font-size", 14);
ylab.append("tspan").text("PSD [dB(Pa");
ylab.append("tspan").attr("dy", -5).attr("font-size", 10).text("2");
ylab.append("tspan").attr("dy", 5).text("/Hz)]");

// ---- Legend ----
const lg = { x: 889.5, y: 32.5, w: 139, h: 111, row: 15.5, first: 42.5 };
const legend = svg.append("g");
legend.append("rect")
  .attr("x", lg.x).attr("y", lg.y).attr("width", lg.w).attr("height", lg.h)
  .attr("fill", "#fff").attr("stroke", axisColor).attr("stroke-width", 1);
seriesNames.forEach((name, i) => {
  const cy = lg.first + i * lg.row;
  legend.append("line")
    .attr("x1", lg.x + 5).attr("x2", lg.x + 43)
    .attr("y1", cy).attr("y2", cy)
    .attr("stroke", seriesColors[i]).attr("stroke-width", 1);
  legend.append("text")
    .attr("x", lg.x + 46).attr("y", cy + 4)
    .attr("font-size", 11.3).attr("fill", "#000").text(name);
});
</script>
</body>
</html>
